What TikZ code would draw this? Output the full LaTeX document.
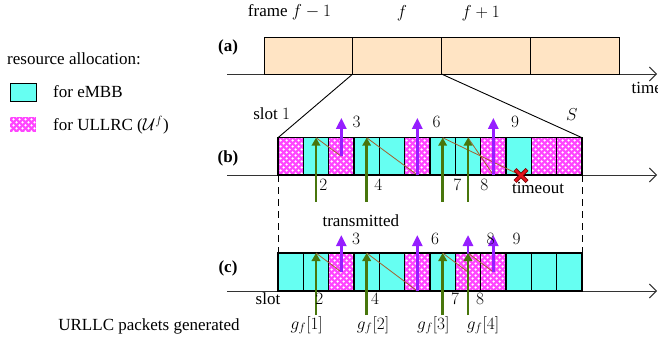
\documentclass[tikz,border=0pt]{standalone}
\usepackage{fontspec}
\setmainfont{Liberation Serif}
\usetikzlibrary{arrows.meta,patterns,calc}
\pgfdeclarepatternformonly{wdots}{\pgfpoint{-1pt}{-1pt}}{\pgfpoint{7pt}{7pt}}{\pgfpoint{6pt}{6pt}}{%
  \pgfpathcircle{\pgfpoint{1.5pt}{1.5pt}}{1.25pt}%
  \pgfpathcircle{\pgfpoint{4.5pt}{4.5pt}}{1.25pt}%
  \pgfusepath{fill}}
\definecolor{embb}{RGB}{102,255,242}
\definecolor{urllc}{RGB}{255,70,255}
\definecolor{framec}{RGB}{255,228,196}
\definecolor{genc}{RGB}{72,118,12}
\definecolor{txc}{RGB}{150,30,255}
\definecolor{lagc}{RGB}{165,95,45}
\definecolor{xdark}{RGB}{120,0,0}
\definecolor{xred}{RGB}{230,20,30}
\tikzset{
  lbl/.style={font=\fontsize{17}{20}\selectfont, inner sep=0pt},
  slotbox/.style={minimum width=25.33pt, inner sep=0pt, outer sep=0pt, line width=1.1pt, draw=black},
  embbox/.style={slotbox, fill=embb},
  urlbox/.style={slotbox, preaction={fill=urllc}, pattern=wdots, pattern color=white},
  framebox/.style={minimum width=88.75pt, minimum height=37pt, inner sep=0pt, outer sep=0pt, draw=black, line width=0.9pt, fill=framec},
  axisline/.style={draw=black!80, line width=0.9pt, -{Straight Barb[length=7pt,width=14pt]}},
  genarr/.style={draw=genc, line width=2.4pt, -{Triangle[length=8pt,width=8.5pt]}},
  txarr/.style={draw=txc, line width=2.6pt, -{Triangle[length=11pt,width=10pt]}},
  lagline/.style={draw=lagc, line width=0.8pt},
  dashline/.style={draw=black, line width=0.9pt, dash pattern=on 7pt off 5pt},
}
\begin{document}
\begin{tikzpicture}[x=1pt,y=-1pt]
\useasboundingbox (0,0) rectangle (658,343);

% legend
\node[lbl, anchor=west] (legt) at (7,58.5) {resource allocation:};
\node[minimum width=26pt, minimum height=18pt, inner sep=0pt, draw=black, line width=0.9pt, fill=embb] (leg1) at (23,92.5) {};
\node[lbl, anchor=west] (leg1t) at (53,91.5) {for eMBB};
\node[minimum width=26pt, minimum height=15pt, inner sep=0pt, preaction={fill=urllc}, pattern=wdots, pattern color=white] (leg2) at (23,124.7) {};
\node[lbl, anchor=west] (leg2t) at (53,125) {for ULLRC ($\mathcal{U}^f$)};

% row labels
\node[lbl, font=\fontsize{17}{20}\selectfont\bfseries] (la) at (228,47) {(a)};
\node[lbl, font=\fontsize{17}{20}\selectfont\bfseries] (lb) at (228,158) {(b)};
\node[lbl, font=\fontsize{17}{20}\selectfont\bfseries] (lc) at (228,268) {(c)};

% axes
\coordinate (a0) at (227,74); \coordinate (a1) at (657,74);
\coordinate (b0) at (227,175); \coordinate (b1e) at (657,175);
\coordinate (c0) at (227,291); \coordinate (c1e) at (657,291);
\draw[axisline] (a0) -- (a1);
\draw[axisline] (b0) -- (b1e);
\draw[axisline] (c0) -- (c1e);
\node[lbl, anchor=west] (timel) at (631.5,88) {time};

% frames
\foreach \i in {1,...,4}{
  \node[framebox] (fa\i) at ({264+(\i-0.5)*88.75},55.5) {};
}
\node[lbl] (fl1) at (289.5,12.5) {frame $f-1$};
\node[lbl] (fl2) at (402,13) {$f$};
\node[lbl] (fl3) at (480.7,13) {$f+1$};

% slots (b)
\foreach \i/\t in {1/urlbox,2/embbox,3/urlbox,4/embbox,5/embbox,6/urlbox,7/embbox,8/embbox,9/urlbox,10/embbox,11/urlbox,12/urlbox}{
  \node[\t, minimum height=37.3pt] (b\i) at ({278+(\i-0.5)*25.333},156.35) {};
}
% slots (c)
\foreach \i/\t in {1/embbox,2/embbox,3/urlbox,4/embbox,5/embbox,6/urlbox,7/embbox,8/urlbox,9/urlbox,10/embbox,11/embbox,12/embbox}{
  \node[\t, minimum height=38pt] (c\i) at ({278+(\i-0.5)*25.333},272) {};
}

% zoom lines
\draw[black, line width=0.9pt] (fa2.south west) -- (b1.north west);
\draw[black, line width=0.9pt] (fa3.south west) -- (b12.north east);
\draw[dashline] (b1.south west) -- (c1.north west);
\draw[dashline] (b12.south east) -- (c12.north east);

\node[lbl] (slot1) at (271.7,114) {slot $1$};
\node[lbl] (slotS) at (571.7,115) {$S$};

% timeout marker
\coordinate (tmo) at (521,175.5);

% lag lines (b)
\draw[lagline] (b2.north) -- (b3.center);
\draw[lagline] (b4.north) -- (b6.south);
\draw[lagline] (b7.north) -- (tmo);
\draw[lagline] (b8.north) -- (b9.south);
% lag lines (c)
\draw[lagline] (c2.north) -- (c3.center);
\draw[lagline] (c4.north) -- (c6.south);
\draw[lagline] (c7.north) -- (c8.center);
\draw[lagline] (c8.north) -- (c9.center);

% transmit arrows (b)
\path (b3.center) ++(0,-38.5) coordinate (tb3);
\path (b6.center) ++(0,-38.5) coordinate (tb6);
\path (b9.center) ++(0,-38.5) coordinate (tb9);
\draw[txarr] (b3.center) -- (tb3);
\draw[txarr] (b6.south) -- (tb6);
\draw[txarr] (b9.south) -- (tb9);
% transmit arrows (c)
\path (c3.center) ++(0,-37) coordinate (tc3);
\path (c6.center) ++(0,-37) coordinate (tc6);
\path (c8.center) ++(0,-37) coordinate (tc8);
\path (c9.center) ++(0,-37) coordinate (tc9);
\draw[txarr] (c3.center) -- (tc3);
\draw[txarr] (c6.south) -- (tc6);
\draw[txarr] (c8.center) -- (tc8);
\draw[txarr] (c9.center) -- (tc9);

% generation arrows
\foreach \i in {2,4,7,8}{
  \path (b\i.center) ++(0,45.2) coordinate (gb\i);
  \draw[genarr] (gb\i) -- (b\i.north);
  \path (c\i.center) ++(0,43) coordinate (gc\i);
  \draw[genarr] (gc\i) -- (c\i.north);
}

% timeout cross
\draw[line width=4.2pt, draw=xdark] ($(tmo)+(-6,-6)$) -- ($(tmo)+(6,6)$) ($(tmo)+(-6,6)$) -- ($(tmo)+(6,-6)$);
\draw[line width=2.4pt, draw=xred] ($(tmo)+(-5.6,-5.6)$) -- ($(tmo)+(5.6,5.6)$) ($(tmo)+(-5.6,5.6)$) -- ($(tmo)+(5.6,-5.6)$);

% number labels (b)
\node[lbl] (nb3) at (356.7,121.7) {$3$};
\node[lbl] (nb6) at (436.7,121.7) {$6$};
\node[lbl] (nb9) at (515,121.7) {$9$};
\node[lbl] (nb2) at (323.3,185) {$2$};
\node[lbl] (nb4) at (378.3,185) {$4$};
\node[lbl] (nb7) at (457.3,185) {$7$};
\node[lbl] (nb8) at (484.3,185) {$8$};
\node[lbl] (tmol) at (538,188.3) {timeout};

% labels (c)
\node[lbl] (trl) at (360.8,220.7) {transmitted};
\node[lbl] (nc3) at (356,239.3) {$3$};
\node[lbl] (nc6) at (435,239.3) {$6$};
\node[lbl] (nc8) at (490.7,239.3) {$8$};
\node[lbl] (nc9) at (516.7,239.3) {$9$};
\node[lbl] (slotc) at (268,298.3) {slot};
\node[lbl] (nc2) at (319.3,299) {$2$};
\node[lbl] (nc4) at (375,299) {$4$};
\node[lbl] (nc7) at (455,299) {$7$};
\node[lbl] (nc8b) at (480,299) {$8$};

\node[lbl] (g1) at (306.7,325) {$g_f[1]$};
\node[lbl] (g2) at (373,325) {$g_f[2]$};
\node[lbl] (g3) at (433.3,325) {$g_f[3]$};
\node[lbl] (g4) at (483,325) {$g_f[4]$};
\node[lbl] (urll) at (149,326.7) {URLLC packets generated};
\end{tikzpicture}
\end{document}
